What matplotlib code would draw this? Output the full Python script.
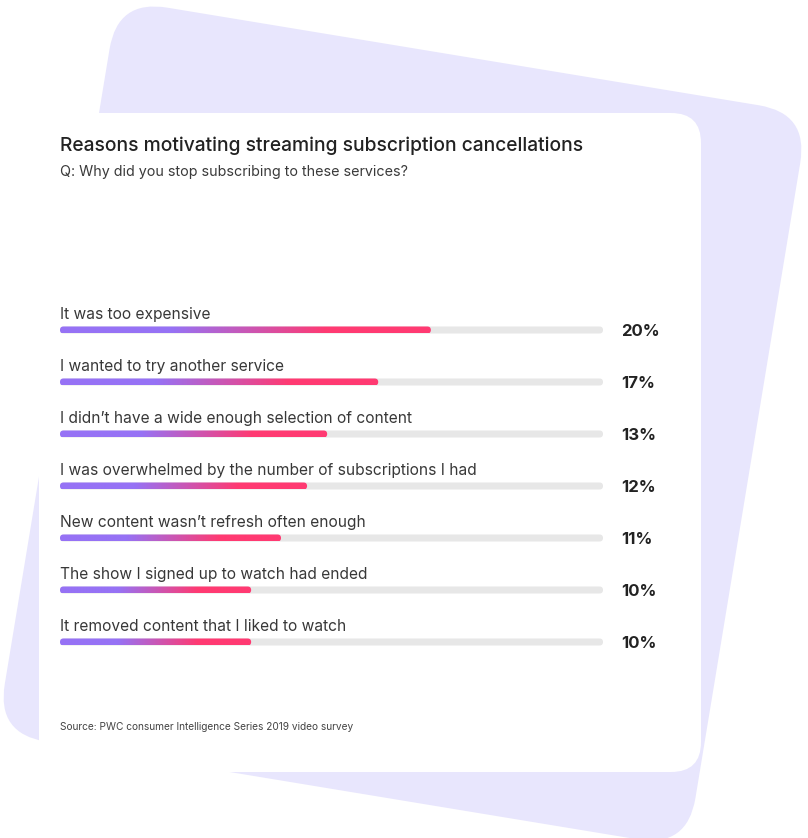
import numpy as np
import matplotlib
matplotlib.use("Agg")
from matplotlib import pyplot as plt
from matplotlib.patches import FancyBboxPatch
from matplotlib.colors import LinearSegmentedColormap
from matplotlib import transforms

# data
reasons = [
    "It was too expensive",
    "I wanted to try another service",
    "I didn\u2019t have a wide enough selection of content",
    "I was overwhelmed by the number of subscriptions I had",
    "New content wasn\u2019t refresh often enough",
    "The show I signed up to watch had ended",
    "It removed content that I liked to watch",
]
pct_labels = ["20%", "17%", "13%", "12%", "11%", "10%", "10%"]
# bar length as share of the grey track (%)
bar_share = [68.3, 58.6, 49.2, 45.5, 40.7, 35.2, 35.2]

title = "Reasons motivating streaming subscription cancellations"
subtitle = "Q: Why did you stop subscribing to these services?"
source = "Source: PWC consumer Intelligence Series 2019 video survey"

W, H = 808, 838
FONT = "Inter"
plt.rcParams['font.family'] = [FONT, 'DejaVu Sans']

fig = plt.figure(figsize=(W / 100, H / 100), dpi=100)
fig.patch.set_facecolor("white")

# background axes in pixel units
bg = fig.add_axes([0, 0, 1, 1])
bg.set_xlim(0, W)
bg.set_ylim(H, 0)
bg.axis("off")

# tilted lavender card behind
cx, cy, bw, bh = 402.5, 423.5, 700, 744
back = FancyBboxPatch((cx - bw / 2, cy - bh / 2), bw, bh,
                      boxstyle="round,pad=0,rounding_size=50",
                      facecolor="#E8E6FD", edgecolor="none")
back.set_transform(transforms.Affine2D().rotate_deg_around(cx, cy, 9.37) + bg.transData)
bg.add_patch(back)

# white card
card = FancyBboxPatch((39, 113), 662, 659, boxstyle="round,pad=0,rounding_size=30",
                      facecolor="white", edgecolor="none")
bg.add_patch(card)

bg.text(60, 146, title, fontsize=13.85, fontweight="medium", color="#222222", va="center")
bg.text(60, 172, subtitle, fontsize=10.3, color="#3a3a3a", va="center")
bg.text(60, 727, source, fontsize=7.3, color="#444444", va="center")

# bar axes: track spans x 60..603 px, rows centred at 330 + 52*i px
x0, x1 = 60, 603
y0, y1 = 304, 668
n = len(reasons)
ax = fig.add_axes([x0 / W, 1 - y1 / H, (x1 - x0) / W, (y1 - y0) / H])
ax.set_xlim(0, 100)
ax.set_ylim(n - 0.5, -0.5)
ax.axis("off")
ax.patch.set_alpha(0)

xdpp = 100 / (x1 - x0)
ydpp = n / (y1 - y0)
thick = 7
bh_d = thick * ydpp
rs = thick / 2 * xdpp
asp = ydpp / xdpp

cmap = LinearSegmentedColormap.from_list(
    "grad", [(0, "#9672F5"), (0.3, "#9672F5"), (0.72, "#FF3A72"), (1, "#FF3A72")])
grad = np.linspace(0, 1, 256).reshape(1, -1)

for i, (lab, val, pl) in enumerate(zip(reasons, bar_share, pct_labels)):
    track = FancyBboxPatch((0, i - bh_d / 2), 100, bh_d,
                           boxstyle=f"round,pad=0,rounding_size={rs}",
                           mutation_aspect=asp, facecolor="#E7E7E7", edgecolor="none")
    ax.add_patch(track)
    clip = FancyBboxPatch((0, i - bh_d / 2), val, bh_d,
                          boxstyle=f"round,pad=0,rounding_size={rs}",
                          mutation_aspect=asp, facecolor="none", edgecolor="none")
    ax.add_patch(clip)
    im = ax.imshow(grad, cmap=cmap, aspect="auto",
                   extent=[0, val, i + bh_d / 2, i - bh_d / 2], zorder=3)
    im.set_clip_path(clip)
    ax.annotate(lab, xy=(0, i), xycoords=ax.get_yaxis_transform(),
                xytext=(0, 16 * 0.72), textcoords="offset points",
                fontsize=11.2, color="#383838", va="center", ha="left")
    ax.annotate(pl, xy=(1, i), xycoords=ax.get_yaxis_transform(),
                xytext=(18 * 0.72, -1 * 0.72), textcoords="offset points",
                fontsize=12, fontweight="bold", color="#222222", va="center", ha="left")

ax.set_xlim(0, 100)
ax.set_ylim(n - 0.5, -0.5)

fig.savefig("out.png", dpi=100)
